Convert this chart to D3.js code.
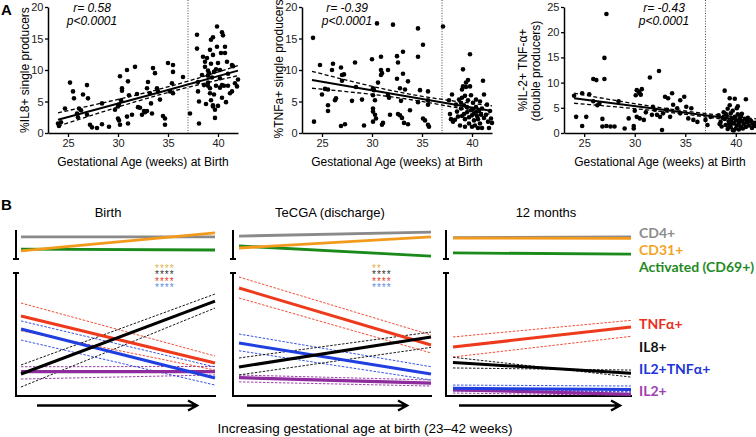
<!DOCTYPE html>
<html>
<head>
<meta charset="utf-8">
<script src="https://cdn.jsdelivr.net/npm/d3@7"></script>
<style>
  body { margin: 0; background: #fff; }
  svg { display: block; font-family: 'Liberation Sans', Arial, Helvetica, sans-serif; }
</style>
</head>
<body>
<div id="chart"></div>
<script>
// ---------- panel A: gestational age (weeks) vs % of CD4 T cells ----------
const ageDomain = [23, 42];
const weekTicks = [25, 30, 35, 40];
const termCutoff = 37;

const il8Points = [
  [24.0,1.5],[24.1,1.1],[24.3,1.7],[24.7,3.9],[25.2,8.0],[25.5,6.6],[25.6,5.5],[25.9,3.1],[26.0,2.5],[26.1,3.9],
  [26.3,3.6],[26.5,6.1],[26.9,7.6],[27.0,5.5],[26.9,2.9],[27.2,1.3],[27.4,0.9],[27.9,0.8],[28.4,4.7],[28.4,1.4],
  [29.1,1.0],[29.7,3.7],[30.0,4.2],[30.2,9.0],[30.1,4.5],[30.3,5.2],[30.0,2.3],[30.1,2.0],[30.2,1.3],[30.4,7.1],
  [30.4,6.7],[30.9,10.0],[31.0,8.2],[31.1,6.0],[30.9,2.6],[31.0,1.5],[31.4,2.9],[31.7,10.5],[31.9,6.2],[32.0,4.1],
  [32.2,4.0],[32.4,2.9],[32.6,3.5],[32.7,3.3],[32.9,3.5],[32.9,7.1],[33.0,8.1],[33.2,6.3],[33.3,4.7],[33.4,3.1],
  [33.5,10.3],[33.7,9.5],[33.9,7.1],[34.0,6.6],[34.2,5.3],[34.5,2.7],[34.7,1.3],[34.7,2.3],[35.0,11.1],[35.5,10.8],
  [35.5,9.7],[35.2,6.6],[35.5,6.3],[35.4,7.9],[36.5,8.9],[37.2,3.1],
  [37.9,15.6],[37.9,13.4],[38.0,8.1],[38.0,6.6],[38.1,5.0],[38.1,1.5],[38.4,9.2],[38.5,12.1],[38.7,11.3],[38.7,10.5],
  [38.9,11.9],[39.0,9.9],[39.0,9.1],[39.0,8.0],[39.2,7.1],[39.2,6.3],[39.3,14.8],[39.5,15.2],[39.2,13.2],[39.5,12.4],
  [39.3,5.2],[39.5,4.4],[39.5,4.2],[39.7,3.7],[39.7,2.4],[39.9,16.9],[40.4,16.0],[40.5,15.5],[39.9,13.7],[40.0,11.1],
  [40.2,10.0],[40.2,8.7],[40.4,7.6],[40.2,7.2],[40.4,5.6],[40.7,13.7],[40.7,12.7],[40.9,11.3],[41.0,7.5],[41.2,6.3],
  [41.4,6.6],[41.4,10.8],[41.5,10.6],[41.7,7.9],[41.9,7.4],[42.0,8.5],[39.1,9.5],[39.4,8.8],[39.6,9.7],[39.8,10.1],
  [39.0,7.5],[39.8,7.5],[40.6,7.5],[39.6,6.1],[40.8,4.9],[38.8,4.6],[40.0,4.3],[41.0,9.4],[38.6,7.6],[39.3,11.0],
  [40.3,12.7]
];
const tnfPoints = [
  [24.1,15.1],[24.2,1.8],[24.8,10.8],[25.0,6.1],[25.3,7.0],[25.6,6.9],[25.6,4.4],[25.6,3.5],[26.0,10.0],[26.1,11.0],
  [26.3,5.2],[26.4,5.5],[26.9,10.4],[27.0,9.2],[27.2,9.3],[27.0,8.3],[26.9,1.1],[27.3,1.4],[28.3,11.2],[28.0,5.1],
  [28.4,7.3],[29.0,5.3],[29.2,1.2],[30.0,11.7],[30.1,7.1],[30.2,6.8],[30.1,3.9],[30.1,3.4],[30.3,2.9],[30.4,2.3],
  [30.1,6.0],[30.3,5.2],[30.1,1.8],[30.5,17.4],[30.6,8.0],[30.9,10.0],[31.0,9.5],[30.9,9.2],[30.9,12.1],[31.0,1.3],
  [31.1,1.6],[31.6,10.0],[31.6,6.0],[31.7,5.6],[31.8,2.9],[32.1,17.2],[32.5,12.2],[32.6,11.2],[32.5,8.6],[32.6,3.0],
  [32.8,2.8],[33.0,2.4],[33.2,1.6],[33.1,12.9],[33.1,9.4],[32.8,7.1],[32.9,5.1],[33.3,6.9],[33.6,8.2],[33.6,1.4],
  [33.8,3.6],[34.6,16.6],[34.6,12.1],[34.8,6.8],[35.1,14.0],[35.1,2.3],[35.3,2.0],[34.6,4.9],[35.6,6.6],[35.6,5.2],
  [35.6,4.5],[35.6,1.3],[35.7,1.0],[37.1,16.9],
  [37.7,5.2],[38.0,6.1],[37.8,3.0],[37.9,2.2],[38.1,1.8],[38.4,4.5],[38.5,3.4],[38.6,2.6],[38.8,1.2],[38.9,4.8],
  [38.9,3.9],[39.0,5.6],[39.0,6.9],[39.1,7.4],[39.1,10.1],[39.2,3.0],[39.3,2.2],[39.3,1.0],[39.4,8.0],[39.4,7.3],
  [39.5,4.1],[39.5,3.3],[39.6,8.4],[39.6,5.2],[39.7,2.5],[39.7,1.5],[39.8,12.5],[39.8,7.4],[39.9,6.0],[39.9,3.6],
  [40.0,2.8],[40.0,1.0],[40.1,4.8],[40.2,3.1],[40.2,2.0],[40.3,1.2],[40.4,5.3],[40.4,4.1],[40.5,2.7],[40.6,2.2],
  [40.6,0.8],[40.7,3.5],[40.8,5.0],[40.8,1.5],[40.9,2.9],[41.0,3.9],[41.0,0.8],[41.1,8.3],[41.2,6.1],[41.2,2.4],
  [41.4,2.9],[41.5,4.5],[41.6,1.8],[41.7,0.8],[41.8,3.5],[41.9,2.3],[42.0,1.6],[39.2,4.4],[39.0,2.7],[38.7,5.3],
  [40.1,3.8],[40.5,3.4],[39.3,5.9],[38.3,2.1]
];
const il2TnfPoints = [
  [24.0,7.4],[24.2,3.2],[24.8,7.9],[25.5,7.7],[24.8,1.4],[25.2,3.2],[25.9,10.7],[26.2,10.5],[25.9,6.3],[26.3,5.5],
  [26.5,5.8],[26.8,2.8],[26.8,1.3],[27.2,1.4],[27.6,1.3],[28.0,1.3],[27.0,14.9],[27.2,23.6],[27.0,10.7],[28.4,6.3],
  [29.0,0.9],[29.4,2.9],[29.9,0.9],[29.9,1.4],[30.2,8.5],[30.4,8.2],[30.5,7.9],[30.6,7.6],[30.7,8.7],[30.1,7.5],
  [30.2,3.2],[30.5,2.9],[30.9,2.6],[31.5,11.0],[31.8,5.2],[32.0,4.6],[31.7,3.6],[32.2,3.6],[32.5,3.2],[32.4,12.3],
  [32.7,0.6],[33.0,7.2],[33.3,6.9],[33.7,7.9],[32.8,3.9],[33.2,4.6],[33.5,3.2],[33.8,5.6],[34.2,4.9],[34.5,3.9],
  [34.5,6.5],[34.9,7.2],[35.1,5.2],[35.3,2.9],[35.6,4.9],[35.8,2.6],[30.0,4.4],[31.1,4.1],[36.2,2.2],[37.0,2.6],
  [37.2,1.6],[37.5,3.2],
  [38.9,8.4],[39.4,6.9],[41.0,6.7],[38.3,3.5],[38.5,2.2],[38.6,1.3],[38.8,4.1],[38.9,2.8],[39.0,1.6],[39.1,3.4],
  [39.2,4.8],[39.2,0.8],[39.3,2.3],[39.4,5.5],[39.5,1.2],[39.5,3.9],[39.6,2.9],[39.7,0.6],[39.7,4.4],[39.8,1.9],
  [39.9,3.2],[39.9,6.8],[40.0,2.5],[40.0,0.9],[40.1,4.9],[40.1,1.5],[40.2,3.7],[40.3,2.0],[40.3,0.7],[40.4,2.8],
  [40.5,1.3],[40.5,3.3],[40.6,2.3],[40.7,0.9],[40.8,1.8],[40.9,2.8],[41.0,1.2],[41.1,2.1],[41.2,3.0],[41.3,1.5],
  [41.5,2.4],[41.6,1.0],[41.7,1.8],[41.9,1.4],[42.0,2.0],[38.7,3.0],[39.0,3.8],[39.6,2.0],[40.2,5.3],[39.3,1.6],
  [40.6,3.8],[38.4,1.8],[39.8,0.5]
];

// linear fits with 95% bands: [age, fit, lower, upper]
const il8Fit = [[24, 2.1, 1.1, 3.2], [34, 6.4, 6.0, 6.9], [42, 9.9, 9.1, 10.7]];
const tnfFit = [[24, 8.4, 7.1, 9.8], [33, 5.95, 5.5, 6.4], [42, 3.5, 2.9, 4.3]];
const il2TnfFit = [[24, 6.9, 5.9, 7.9], [33, 4.55, 4.2, 4.9], [42, 2.2, 1.8, 2.8]];

const rLabels = ['r= 0.58', 'r= -0.39', 'r= -0.43'];
const pLabels = ['p<0.0001', 'p<0.0001', 'p<0.0001'];

// ---------- panel B: schematic trends, [start, end] per timepoint ----------
const timepoints = ['Birth', 'TeCGA (discharge)', '12 months'];
const cd4Trend = [[7.6, 7.6], [7.9, 9.3], [7.4, 7.6]];
const cd31Trend = [[2.8, 9.0], [3.8, 7.6], [7.2, 7.1]];
const cd69Trend = [[3.4, 3.1], [4.5, 1.0], [2.1, 1.7]];

const tnfFitB = [[65, 26.8], [87.8, 41.5], [39.8, 56.1]];
const tnfLoB = [[53, 21.1], [79.7, 35], [31.7, 48.5]];
const tnfHiB = [[75.6, 32.5], [96.7, 49.6], [48, 61.5]];
const il8FitB = [[17.9, 77.2], [23.6, 48], [27.2, 18.5]];
const il8LoB = [[7.3, 71.5], [17.1, 39.5], [31.5, 15.4]];
const il8HiB = [[25.2, 82.9], [30.9, 52], [22.8, 21.1]];
const il2TnfFitB = [[54.5, 14.6], [43.1, 17.9], [6.2, 5.2]];
const il2TnfLoB = [[45.5, 8.9], [36.8, 13], [4.1, 3.3]];
const il2TnfHiB = [[61, 23.6], [50.4, 23.8], [8.9, 8.1]];
const il2FitB = [[19.8, 19.8], [14.9, 10.4], [5.0, 1.4]];
const il2LoB = [[13.8, 17.1], [11.5, 8.1], [2.4, 0.5]];
const il2HiB = [[23.8, 24.0], [17.1, 13], [6.5, 3.3]];

const starsCD31 = ['****', '**', ''];
const starsIL8 = ['****', '****', ''];
const starsTNF = ['****', '****', ''];
const starsIL2Tnf = ['****', '****', ''];

const legendLabels = ['CD4+', 'CD31+', 'Activated (CD69+)', 'TNFα+', 'IL8+', 'IL2+TNFα+', 'IL2+'];
const legendColors = ['#8c8c8c', '#f2a327', '#1f8a1f', '#e8301e', '#111', '#2235d8', '#a040b0'];

const COL = {
  gray: '#8a8a8a', orange: '#f39a1c', green: '#1a8a1a',
  red: '#ee3a1c', black: '#000', blue: '#1f3fe0', purple: '#8e2c9e'
};

const svg = d3.select('#chart').append('svg')
  .attr('width', 756)
  .attr('height', 437);

// ================= panel A =================
function scatter_panel (points, fit, yMax, xRange, k) {
  const x = d3.scaleLinear().domain(ageDomain).range(xRange);
  const y = d3.scaleLinear().domain([0, yMax]).range([133, 7]);
  const g = svg.append('g');

  g.append('line')
    .attr('x1', x(termCutoff)).attr('x2', x(termCutoff))
    .attr('y1', 0).attr('y2', y(0))
    .attr('stroke', '#444')
    .attr('stroke-width', 1)
    .attr('stroke-dasharray', '1,1.6');

  g.selectAll('circle')
    .data(points)
    .join('circle')
    .attr('cx', d => x(d[0]))
    .attr('cy', d => y(d[1]))
    .attr('r', 2.3)
    .attr('fill', '#000');

  const fitLine = col => d3.line()
    .x(d => x(d[0]))
    .y(d => y(d[col]))
    .curve(d3.curveNatural);

  [2, 3].forEach(col => {
    g.append('path').datum(fit)
      .attr('d', fitLine(col))
      .attr('fill', 'none')
      .attr('stroke', '#000')
      .attr('stroke-width', 1.3)
      .attr('stroke-dasharray', '4,2.5');
  });
  g.append('path').datum(fit)
    .attr('d', fitLine(1))
    .attr('fill', 'none')
    .attr('stroke', '#000')
    .attr('stroke-width', 2);

  // axes
  const xAxis = g.append('g')
    .attr('transform', `translate(0, ${y(0)})`)
    .call(d3.axisBottom(x).tickValues(weekTicks).tickSize(4).tickSizeOuter(0).tickPadding(2));
  const yAxis = g.append('g')
    .attr('transform', `translate(${x(ageDomain[0])}, 0)`)
    .call(d3.axisLeft(y).tickValues(d3.range(0, yMax + 1, 5)).tickSize(3).tickSizeOuter(0).tickPadding(1.5));
  [xAxis, yAxis].forEach(a => {
    a.attr('font-family', null).attr('font-size', 11);
    a.select('.domain').attr('stroke-width', 1.5);
    a.selectAll('.tick line').attr('stroke-width', 1.3);
    a.selectAll('.tick text').attr('fill', '#222');
  });

  g.append('text')
    .attr('x', (xRange[0] + xRange[1]) / 2).attr('y', 166)
    .attr('text-anchor', 'middle')
    .style('font-size', '12px')
    .text('Gestational Age (weeks) at Birth');

  const statX = [92, 347, 664][k];
  g.append('text').attr('x', statX).attr('y', 11.5)
    .attr('text-anchor', 'middle').style('font-size', '12px').style('font-style', 'italic')
    .text(rLabels[k]);
  g.append('text').attr('x', statX).attr('y', 24.5)
    .attr('text-anchor', 'middle').style('font-size', '12px').style('font-style', 'italic')
    .text(pLabels[k]);
  return g;
}

scatter_panel(il8Points, il8Fit, 20, [48, 238], 0);
scatter_panel(tnfPoints, tnfFit, 20, [302, 492], 1);
scatter_panel(il2TnfPoints, il2TnfFit, 25, [564, 756], 2);

// rotated y titles
function y_title (x, y, label) {
  svg.append('text')
    .attr('transform', `translate(${x}, ${y}) rotate(-90)`)
    .attr('text-anchor', 'middle')
    .style('font-size', '12px')
    .text(label);
}
y_title(29, 70, '%IL8+ single producers');
y_title(283, 69, '%TNFa+ single producers');
y_title(527, 70, '%IL-2+ TNF-\u03b1+');
y_title(540, 71, '(double producers)');

svg.append('text').attr('x', 1).attr('y', 15)
  .style('font-size', '15px').style('font-weight', 'bold').text('A');
svg.append('text').attr('x', 1).attr('y', 210)
  .style('font-size', '15px').style('font-weight', 'bold').text('B');

// ================= panel B =================
const bPanels = [
  { axisX: 16, x0: 21, x1: 215, arrow: [37, 197], title: 108, stars: 155 },
  { axisX: 233, x0: 239, x1: 431, arrow: [247, 407], title: 330, stars: 372 },
  { axisX: 446, x0: 453, x1: 631, arrow: [459, 620], title: 546, stars: 0 }
];
const yTop = d3.scaleLinear().domain([0, 10]).range([259, 230]);
const yLow = d3.scaleLinear().domain([0, 100]).range([396, 273]);

bPanels.forEach((p, i) => {
  const x = d3.scaleLinear().domain(ageDomain).range([p.x0, p.x1]);
  const g = svg.append('g');

  g.append('text')
    .attr('x', p.title).attr('y', 217)
    .attr('text-anchor', 'middle')
    .style('font-size', '13px')
    .text(timepoints[i]);

  // broken axis: upper segment, lower segment and baseline
  const ax = p.axisX;
  g.append('path')
    .attr('d', `M${ax},${yTop(10)}V${yTop(0)}M${ax - 3},${yTop(0)}H${ax + 3}`)
    .attr('stroke', '#000').attr('stroke-width', 2).attr('fill', 'none');
  g.append('path')
    .attr('d', `M${ax - 3},${yLow(100)}H${ax + 3}M${ax},${yLow(100)}V${yLow(0)}H${p.x1 + 1}`)
    .attr('stroke', '#000').attr('stroke-width', 2).attr('fill', 'none');

  // arrow
  const ay = 405.5;
  g.append('path')
    .attr('d', `M${p.arrow[0]},${ay}H${p.arrow[1]}M${p.arrow[1] - 9},${ay - 5}L${p.arrow[1]},${ay}L${p.arrow[1] - 9},${ay + 5}`)
    .attr('stroke', '#000').attr('stroke-width', 2.4).attr('fill', 'none');

  const seg = (arr, yScale) => [[ageDomain[0], arr[i][0]], [ageDomain[1], arr[i][1]]]
    .map(d => [x(d[0]), yScale(d[1])]);
  const draw = (arr, yScale, color, width, dash) => {
    g.append('path')
      .attr('d', d3.line()(seg(arr, yScale)))
      .attr('fill', 'none')
      .attr('stroke', color)
      .attr('stroke-width', width)
      .attr('stroke-dasharray', dash || null);
  };

  // upper block
  draw(cd4Trend, yTop, COL.gray, 2.8);
  draw(cd69Trend, yTop, COL.green, 2.8);
  draw(cd31Trend, yTop, COL.orange, 2.8);

  // lower block: bands first
  const bands = [
    [il2LoB, il2HiB, COL.purple], [il2TnfLoB, il2TnfHiB, COL.blue],
    [tnfLoB, tnfHiB, COL.red], [il8LoB, il8HiB, COL.black]
  ];
  bands.forEach(b => {
    draw(b[0], yLow, b[2], 0.9, '2.5,1.5');
    draw(b[1], yLow, b[2], 0.9, '2.5,1.5');
  });
  draw(il2FitB, yLow, COL.purple, 3.2);
  draw(il2TnfFitB, yLow, COL.blue, 3);
  draw(tnfFitB, yLow, COL.red, 3);
  draw(il8FitB, yLow, COL.black, 3);

  // significance stars, stacked rows in one text block
  const starRows = [
    [starsCD31, '#e2b24c'], [starsIL8, '#333'], [starsTNF, '#e63a2a'], [starsIL2Tnf, '#5b8de8']
  ].filter(r => r[0][i]);
  if (starRows.length) {
    const t = g.append('text')
      .attr('x', p.stars).attr('y', 272)
      .style('font-size', '10px')
      .style('letter-spacing', '1px');
    starRows.forEach((r, j) => {
      t.append('tspan')
        .attr('x', p.stars)
        .attr('dy', j === 0 ? 0 : 6.4)
        .attr('fill', r[1])
        .text(r[0][i]);
    });
  }
});

// legend labels on the right
const legendY = [237.5, 254.5, 271.5, 328.5, 351.5, 373.5, 395.5];
svg.selectAll('.legend')
  .data(legendLabels)
  .join('text')
  .attr('class', 'legend')
  .attr('x', 639)
  .attr('y', (d, i) => legendY[i])
  .attr('fill', (d, i) => legendColors[i])
  .style('font-family', 'Lato, "Open Sans", sans-serif')
  .style('font-weight', 'bold')
  .style('font-size', '14px')
  .text(d => d);

svg.append('text')
  .attr('x', 365).attr('y', 433)
  .attr('text-anchor', 'middle')
  .style('font-size', '13.5px')
  .text('Increasing gestational age at birth (23\u201342 weeks)');
</script>
</body>
</html>
